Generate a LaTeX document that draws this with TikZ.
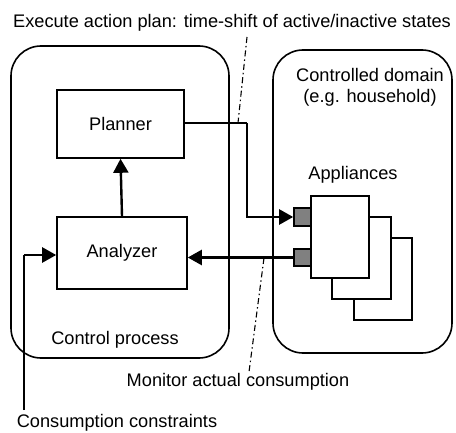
\documentclass[tikz,border=0pt]{standalone}
\usepackage{fontspec}
\setmainfont{Liberation Sans}
\usetikzlibrary{arrows.meta}
\begin{document}
\begin{tikzpicture}[x=1pt,y=-1pt,
  every node/.style={font=\fontsize{18.2}{21}\selectfont, inner sep=0pt},
  region/.style={draw, line width=1.6pt, rounded corners=30pt},
  blk/.style={draw, line width=1.6pt},
  port/.style={draw, line width=1.6pt, fill=black!50},
  conn/.style={line width=2.4pt, -{Triangle[length=14pt,width=15pt]}},
  plain/.style={line width=1.6pt},
  dd/.style={line width=1.1pt, dash pattern=on 6pt off 3pt on 1.5pt off 3pt}]
\useasboundingbox (0,0) rectangle (456,433);
% regions
\draw[region] (11,46) rectangle (229,358);
\draw[region] (273,50) rectangle (452,353);
% blocks
\node[blk, minimum width=127pt, minimum height=68pt] (planner) at (120.5,124) {Planner};
\node[blk, minimum width=130pt, minimum height=72pt] (analyzer) at (122,253) {Analyzer};
% appliances
\node[blk, fill=white, minimum width=58pt, minimum height=82pt] (app3) at (383,279) {};
\node[blk, fill=white, minimum width=59pt, minimum height=82pt] (app2) at (361.5,258) {};
\node[blk, fill=white, minimum width=58pt, minimum height=82pt] (app1) at (340,237) {};
\node[port, minimum width=17pt, minimum height=18pt] (p1) at (302.5,217) {};
\node[port, minimum width=17pt, minimum height=17pt] (p2) at (302.5,257.5) {};
% labels
\node (top) at (232,23) {Execute action plan: time-shift of active/inactive states};
\node[align=center] (cd) at (370,87.5) {Controlled domain\\(e.g. household)};
\node (appl) at (353,175) {Appliances};
\node (cp) at (115,340) {Control process};
\node (mon) at (238,382) {Monitor actual consumption};
\node (cc) at (117,423) {Consumption constraints};
% connectors
\draw[conn] (analyzer.north) -- (planner.south);
\draw[plain] (planner.east |- 0,123) -- (247,123) coordinate (c1);
\draw[conn] (c1) -- (247,217) -- (p1.west);
\draw[conn] (p2.west) -- (analyzer.east |- p2.west);
\coordinate (cs) at (24,410);
\draw[plain] (cs) -- (24,255);
\draw[conn] (24,255) -- (analyzer.west |- 0,255);
% dash-dot
\coordinate (d1a) at (247,37);
\coordinate (d1b) at (238,123);
\draw[dd] (d1a) -- (d1b);
\coordinate (d2a) at (264,258);
\coordinate (d2b) at (249,372);
\draw[dd] (d2a) -- (d2b);
\end{tikzpicture}
\end{document}
